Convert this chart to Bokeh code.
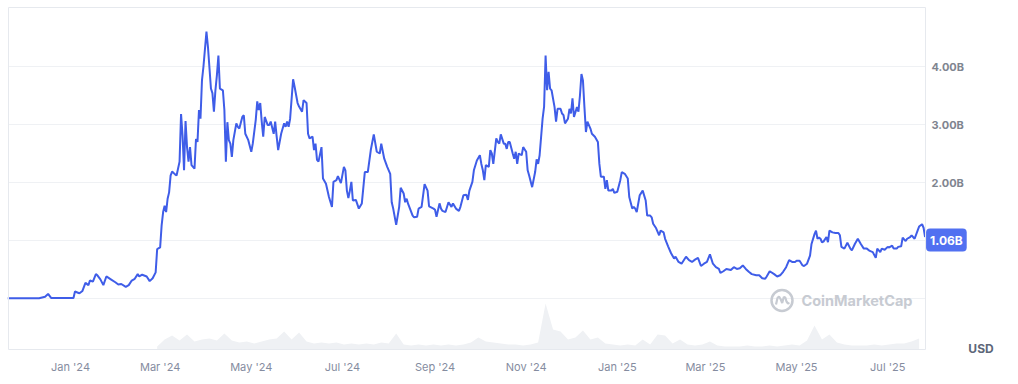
import pandas as pd
from bokeh.plotting import figure
from bokeh.models import Range1d, FixedTicker, DatetimeTickFormatter, Label
from bokeh.core.properties import value
from bokeh.embed import file_html
from bokeh.resources import INLINE

# ---------------- data ----------------
base_date = "2024-01-01"
# day offsets from 2024-01-01 and market cap in billions USD
price_day = [
    -42, -21, -17, -15, -13, 2,
    3, 5, 6, 8, 10, 12, 13, 15, 17, 18, 20, 22, 24, 27, 30, 32, 34, 37, 39, 41, 43, 45, 46, 48,
    51, 53, 55, 57, 58, 60, 61, 62, 63, 64, 65, 66, 67, 68, 70, 71, 73, 74, 75, 76, 77, 78, 79, 80,
    81, 83, 84, 85, 86, 87, 88, 89, 91, 92, 94, 95, 96, 97, 98, 99, 100, 102, 103, 104, 105, 106,
    107, 108, 109, 111, 112, 113, 115, 116, 117, 119, 121, 122, 124, 125, 126, 127, 128, 129, 130,
    132, 133, 134, 136, 137, 138, 139, 141, 143, 144, 145, 146, 147, 149, 150, 152, 153, 155, 156,
    158, 159, 160, 162, 163, 164, 165, 166, 168, 169, 171, 173, 175, 176, 178, 179, 181, 183, 184,
    185, 186, 187, 188, 189, 191, 193, 195, 197, 199, 201, 203, 205, 207, 208, 210, 212, 214, 215,
    216, 218, 220, 221, 223, 224, 225, 226, 229, 230, 232, 233, 235, 237, 239, 240, 243, 244, 245,
    247, 248, 249, 251, 253, 255, 256, 258, 260, 261, 263, 265, 266, 267, 269, 270, 272, 274, 275,
    276, 277, 278, 280, 281, 282, 283, 285, 286, 287, 288, 290, 291, 292, 293, 294, 296, 297, 298,
    299, 300, 302, 303, 305, 306, 307, 309, 311, 312, 313, 314, 316, 317, 318, 319, 320, 321, 322,
    324, 325, 326, 328, 329, 330, 331, 333, 334, 335, 336, 337, 339, 340, 341, 342, 343, 344, 345,
    346, 348, 349, 351, 353, 354, 355, 357, 358, 359, 360, 362, 363, 364, 366, 368, 369, 371, 373,
    374, 376, 377, 378, 379, 381, 383, 385, 386, 388, 389, 390, 392, 394, 395, 397, 398, 400, 402,
    404, 405, 407, 409, 412, 414, 416, 418, 420, 422, 424, 426, 428, 430, 432, 434, 435, 437, 439,
    442, 444, 446, 448, 450, 452, 454, 456, 459, 461, 463, 465, 466, 468, 471, 473, 475, 477, 479,
    481, 483, 485, 486, 488, 490, 491, 493, 495, 496, 498, 499, 500, 501, 502, 503, 504, 506, 507,
    508, 510, 512, 514, 515, 516, 518, 520, 522, 523, 525, 527, 529, 531, 533, 535, 537, 539, 540,
    542, 543, 545, 547, 548, 550, 551, 553, 554, 556, 557, 559, 560, 562, 563, 565, 567, 568, 570,
    571, 572,
]
price_bn = [
    0.005, 0.005, 0.03, 0.08, 0.01, 0.01,
    0.12, 0.10, 0.09, 0.13, 0.27, 0.23, 0.31, 0.29, 0.42, 0.40, 0.33, 0.23, 0.38, 0.33, 0.28, 0.24, 0.25, 0.20, 0.23, 0.31, 0.34, 0.42, 0.38, 0.41,
    0.38, 0.30, 0.35, 0.45, 0.85, 0.88, 1.26, 1.49, 1.60, 1.49, 1.72, 1.83, 2.12, 2.19, 2.14, 2.12, 2.36, 3.18, 2.81, 2.21, 3.06, 2.61, 2.36, 2.61,
    2.30, 2.24, 2.75, 2.70, 3.25, 3.10, 3.76, 4.00, 4.60, 4.34, 3.62, 3.54, 3.22, 3.59, 3.85, 4.19, 3.62, 3.59, 3.25, 2.36, 3.04, 2.73,
    2.67, 2.44, 2.73, 3.02, 2.96, 2.93, 3.13, 3.16, 2.84, 2.73, 2.53, 2.67, 3.08, 3.40, 3.25, 3.37, 3.05, 2.79, 3.13,
    2.99, 2.99, 3.05, 2.84, 3.05, 2.79, 2.56, 2.84, 3.02, 2.96, 3.05, 2.96, 3.10, 3.78, 3.65, 3.37, 3.31, 3.22, 3.42,
    3.37, 2.84, 2.76, 2.79, 2.56, 2.67, 2.39, 2.36, 2.61, 2.07, 1.98, 1.75, 1.58, 2.01, 2.04, 2.11, 1.99, 2.27, 2.21,
    1.86, 1.73, 1.86, 2.01, 1.69, 1.70, 1.55, 1.64, 2.18, 2.18, 2.56, 2.83, 2.53, 2.50, 2.67, 2.41, 2.27, 2.15, 1.66,
    1.55, 1.27, 1.58, 1.91, 1.81, 1.66, 1.72, 1.63, 1.43, 1.40, 1.41, 1.55, 1.58, 1.97, 1.86, 1.59, 1.55, 1.53, 1.41,
    1.64, 1.55, 1.51, 1.49, 1.66, 1.58, 1.64, 1.55, 1.51, 1.58, 1.78, 1.79, 1.70, 1.86, 2.01, 2.21, 2.38, 2.47, 2.32,
    2.21, 2.04, 2.30, 2.27, 2.56, 2.50, 2.32, 2.76, 2.70, 2.67, 2.83, 2.67, 2.67, 2.58, 2.70, 2.70, 2.50, 2.41, 2.53,
    2.32, 2.50, 2.47, 2.61, 2.53, 2.21, 2.12, 1.92, 2.18, 2.40, 2.32, 2.47, 3.10, 3.31, 4.19, 3.59, 3.91, 3.62, 3.59,
    3.30, 3.05, 3.27, 3.27, 3.19, 3.16, 3.02, 3.10, 3.27, 3.19, 3.45, 3.13, 3.30, 3.22, 3.50, 3.87, 3.76, 3.30, 2.87,
    3.05, 2.93, 2.84, 2.79, 2.70, 2.32, 2.10, 2.10, 1.89, 2.04, 1.86, 1.86, 1.89, 1.82, 1.84, 2.04, 2.18, 2.15, 2.07,
    1.75, 1.55, 1.58, 1.55, 1.49, 1.78, 1.86, 1.69, 1.43, 1.43, 1.40, 1.29, 1.21, 1.09, 1.17, 1.14, 1.03, 0.90, 0.78,
    0.69, 0.72, 0.63, 0.60, 0.72, 0.66, 0.63, 0.67, 0.70, 0.56, 0.60, 0.63, 0.76, 0.60, 0.54, 0.51, 0.44, 0.47, 0.51,
    0.49, 0.54, 0.51, 0.52, 0.57, 0.51, 0.46, 0.42, 0.40, 0.40, 0.35, 0.34, 0.38, 0.47, 0.42, 0.38, 0.40, 0.46, 0.54,
    0.66, 0.63, 0.63, 0.65, 0.65, 0.57, 0.56, 0.60, 0.74, 0.94, 1.11, 1.17, 1.03, 1.05, 1.03, 0.97, 0.98, 1.06, 0.97,
    1.17, 1.14, 1.13, 1.13, 1.09, 0.89, 0.86, 0.96, 0.86, 0.83, 0.94, 1.03, 0.94, 0.86, 0.86, 0.82, 0.80, 0.70, 0.86,
    0.80, 0.86, 0.84, 0.89, 0.88, 0.91, 0.86, 0.86, 0.89, 0.90, 1.05, 0.99, 1.03, 1.06, 1.09, 1.03, 1.17, 1.24, 1.28,
    1.22, 1.06,
]
# trading volume (millions USD), every 5 days starting 2024-02-28
volume_start = "2024-02-28"
volume_m = [
    30, 100, 140, 90, 150, 80, 100, 110, 90, 160,
    90, 70, 80, 60, 80, 100, 110, 180, 100, 170,
    80, 60, 70, 60, 70, 50, 60, 50, 60, 50,
    70, 60, 160, 50, 40, 50, 40, 50, 40, 50,
    40, 50, 70, 120, 80, 70, 60, 50, 50, 40,
    50, 70, 460, 200, 180, 100, 120, 190, 100, 120,
    60, 50, 40, 50, 40, 100, 50, 150, 140, 60,
    100, 50, 40, 50, 80, 40, 30, 30, 30, 40,
    30, 30, 40, 30, 40, 50, 40, 90, 240, 100,
    150, 70, 50, 40, 40, 40, 50, 40, 50, 60,
    60, 80, 110,
]
tick_months = ["2024-01-01", "2024-03-01", "2024-05-01", "2024-07-01", "2024-09-01",
               "2024-11-01", "2025-01-01", "2025-03-01", "2025-05-01", "2025-07-01"]
grid_values = [0, 1, 2, 3, 4]
label_values = [2, 3, 4]
label_texts = ["2.00B", "3.00B", "4.00B"]
last_label = "1.06B"
currency = "USD"
watermark = "CoinMarketCap"

# ---------------- layout helpers (page pixel -> data) ----------------
base = pd.Timestamp(base_date)
PX_JAN24, PX_PER_DAY = 70.0, 1.494
PX_ZERO, PX_PER_BN = 298.0, 58.0


def px_day(px):
    return base + pd.Timedelta(days=(px - PX_JAN24) / PX_PER_DAY)


def px_val(py):
    return (PX_ZERO - py) / PX_PER_BN


FONT = "Inter"
W, H = 1010, 376
B_LEFT, B_TOP, B_BOTTOM = 6, 5, 22
FRAME_L, FRAME_R, FRAME_T, FRAME_B = 8, 925, 7, 349

dates = base + pd.to_timedelta(price_day, unit="D")
vol_dates = pd.date_range(volume_start, periods=len(volume_m), freq="5D")

p = figure(width=W, height=H, x_axis_type="datetime", y_axis_location=None,
           output_backend="svg", toolbar_location=None,
           x_range=Range1d(px_day(B_LEFT), px_day(W)),
           y_range=Range1d(px_val(H - B_BOTTOM), px_val(B_TOP)),
           min_border_left=B_LEFT, min_border_top=B_TOP, min_border_right=0,
           min_border_bottom=B_BOTTOM)
vol_px = (H - B_BOTTOM) - B_TOP
p.extra_y_ranges = {"vol": Range1d(-(H - B_BOTTOM - FRAME_B) * 10, (vol_px - (H - B_BOTTOM - FRAME_B)) * 10)}
p.outline_line_color = None
p.xgrid.grid_line_color = None
p.ygrid.grid_line_color = None

# grid lines of the chart pane
x0, x1 = px_day(FRAME_L), px_day(FRAME_R)
p.segment(x0=[x0] * len(grid_values), x1=[x1] * len(grid_values), y0=grid_values, y1=grid_values,
          line_color="#eff1f4", line_width=1)

# volume and price
p.varea(x=vol_dates, y1=0, y2=volume_m, y_range_name="vol", fill_color="#eff1f4")
p.line(dates, price_bn, line_color="#3f5de8", line_width=2)

# pane outline
p.quad(left=[x0], right=[x1], bottom=[px_val(FRAME_B)], top=[px_val(FRAME_T)],
       fill_color=None, line_color="#e6e9ee", line_width=1)

# x axis
xa = p.xaxis[0]
xa.ticker = FixedTicker(ticks=[pd.Timestamp(d).value // 10**6 for d in tick_months])
xa.formatter = DatetimeTickFormatter(months="%b '%y", days="%b '%y", years="%b '%y")
xa.axis_line_color = None
xa.major_tick_line_color = None
xa.minor_tick_line_color = None
xa.major_tick_out = 0
xa.major_tick_in = 0
xa.major_label_text_font = FONT
xa.major_label_text_font_size = "11px"
xa.major_label_text_color = "#858ca0"
xa.major_label_standoff = 5

# y labels (right)
p.text(x=[px_day(931)] * len(label_values), y=label_values, text=label_texts,
       text_font=value(FONT), text_font_size="11px", text_font_style="bold",
       text_color="#7f8590", text_baseline="middle", text_align="left")

# watermark
wm_col = "#c7cbd2"
lx, ly = 781.5, 300.0
p.scatter([px_day(lx)], [px_val(ly)], marker="circle", size=21, fill_color=None,
          line_color=wm_col, line_width=2.5)
m_off = [(-6, 4), (-4.5, -2.5), (-3, -4), (-1.2, -1), (0.2, 2.5), (1.8, -3.5), (3.3, -3),
         (4.5, 1), (6, 3), (7.5, 2.5)]
p.line([px_day(lx + dx) for dx, dy in m_off], [px_val(ly + dy) for dx, dy in m_off],
       line_color=wm_col, line_width=2.2)
p.add_layout(Label(x=px_day(801), y=px_val(ly), text=watermark, text_font=FONT,
                   text_font_size="14.5px", text_font_style="bold", text_color=wm_col,
                   text_baseline="middle", text_align="left"))

# last value badge
p.add_layout(Label(x=dates[-1], y=price_bn[-1], text=last_label, x_offset=1, y_offset=-3,
                   text_font=FONT, text_font_size="12px", text_font_style="bold",
                   text_color="white", text_baseline="middle", text_align="left",
                   background_fill_color="#5170f1", padding=4, border_radius=4))

# currency
p.add_layout(Label(x=px_day(980.5), y=px_val(347.5), text=currency, text_font=FONT,
                   text_font_size="12px", text_font_style="bold", text_color="#5d6779",
                   text_baseline="middle", text_align="center"))

open("out.html", "w").write(file_html(p, INLINE))
